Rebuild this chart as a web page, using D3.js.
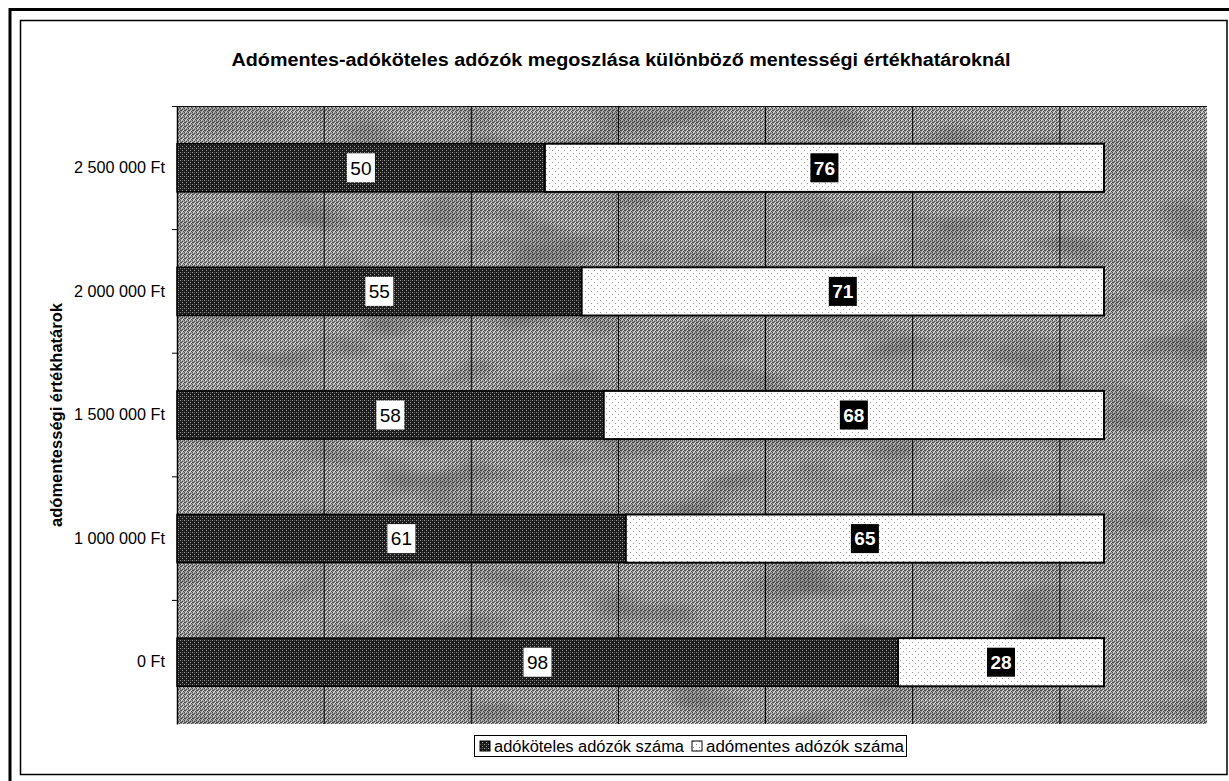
<!DOCTYPE html>
<html>
<head>
<meta charset="utf-8">
<script src="https://cdn.jsdelivr.net/npm/d3@7"></script>
<style>
  html, body { margin: 0; padding: 0; background: #fff; }
  svg { display: block; font-family: "Liberation Sans", Arial, sans-serif; }
</style>
</head>
<body>
<svg id="chart" width="1229" height="781"></svg>
<script>
const categories = ["2 500 000 Ft", "2 000 000 Ft", "1 500 000 Ft", "1 000 000 Ft", "0 Ft"];
const taxableCounts = [50, 55, 58, 61, 98];   // adóköteles adózók száma
const exemptCounts  = [76, 71, 68, 65, 28];   // adómentes adózók száma
const seriesNames = ["adóköteles adózók száma", "adómentes adózók száma"];
const xTicks = [0, 20, 40, 60, 80, 100, 120, 140];
const titleText = "Adómentes-adóköteles adózók megoszlása különböző mentességi értékhatároknál";
const yAxisTitle = "adómentességi értékhatárok";

const svg = d3.select("#chart");
const plot = { left: 177, top: 106, right: 1207, bottom: 724 };

// patterns
const defs = svg.append("defs");
const bg = defs.append("pattern").attr("id", "bgPat").attr("patternUnits", "userSpaceOnUse")
  .attr("width", 4).attr("height", 4);
bg.append("rect").attr("width", 4).attr("height", 4).attr("fill", "#a0a0a0");
[[0,0],[2,1],[1,2],[3,3],[0,2]].forEach(([x,y]) =>
  bg.append("rect").attr("x", x).attr("y", y).attr("width", 1).attr("height", 1).attr("fill", "#4a4a4a"));
[[1,0],[3,2],[2,3]].forEach(([x,y]) =>
  bg.append("rect").attr("x", x).attr("y", y).attr("width", 1).attr("height", 1).attr("fill", "#e4e4e4"));

const dk = defs.append("pattern").attr("id", "darkPat").attr("patternUnits", "userSpaceOnUse")
  .attr("width", 4).attr("height", 4);
dk.append("rect").attr("width", 4).attr("height", 4).attr("fill", "#1c1c1c");
[[0,0],[2,2]].forEach(([x,y]) =>
  dk.append("rect").attr("x", x).attr("y", y).attr("width", 1).attr("height", 1).attr("fill", "#9a9a9a"));
[[2,0]].forEach(([x,y]) =>
  dk.append("rect").attr("x", x).attr("y", y).attr("width", 1).attr("height", 1).attr("fill", "#555"));

const lt = defs.append("pattern").attr("id", "lightPat").attr("patternUnits", "userSpaceOnUse")
  .attr("width", 6).attr("height", 6);
lt.append("rect").attr("width", 6).attr("height", 6).attr("fill", "#ffffff");
[[0,0],[3,3]].forEach(([x,y]) =>
  lt.append("rect").attr("x", x).attr("y", y).attr("width", 1).attr("height", 1).attr("fill", "#999"));

// mottling filter for background
const f = defs.append("filter").attr("id", "mottle").attr("x", 0).attr("y", 0).attr("width", 1).attr("height", 1);
f.append("feTurbulence").attr("type", "fractalNoise").attr("baseFrequency", "0.012 0.03").attr("numOctaves", 2).attr("seed", 7).attr("result", "n");
f.append("feColorMatrix").attr("in", "n").attr("type", "matrix")
  .attr("values", "0 0 0 0 0  0 0 0 0 0  0 0 0 0 0  0 0 0 1.6 -0.75").attr("result", "m");
f.append("feComposite").attr("in", "m").attr("in2", "SourceGraphic").attr("operator", "in");

// frames
svg.append("rect").attr("x", 10).attr("y", 9.5).attr("width", 1240).attr("height", 800)
  .attr("fill", "none").attr("stroke", "#000").attr("stroke-width", 3);
svg.append("rect").attr("x", 20.5).attr("y", 20.5).attr("width", 1206.5).attr("height", 754)
  .attr("fill", "none").attr("stroke", "#000").attr("stroke-width", 1.5);

// scales
const x = d3.scaleLinear().domain([0, 140]).range([plot.left, plot.right]);
const y = d3.scaleBand().domain(categories).range([plot.top, plot.bottom])
  .paddingInner(0.61).paddingOuter(0.305);

// plot background
svg.append("rect").attr("x", plot.left).attr("y", plot.top)
  .attr("width", plot.right - plot.left).attr("height", plot.bottom - plot.top)
  .attr("fill", "url(#bgPat)");
svg.append("rect").attr("x", plot.left).attr("y", plot.top)
  .attr("width", plot.right - plot.left).attr("height", plot.bottom - plot.top)
  .attr("fill", "#000").attr("opacity", 0.35).attr("filter", "url(#mottle)");

// gridlines
svg.append("g").selectAll("line").data(xTicks.slice(1, -1)).join("line")
  .attr("x1", d => x(d)).attr("x2", d => x(d))
  .attr("y1", plot.top).attr("y2", plot.bottom)
  .attr("stroke", "#000").attr("stroke-width", 1);
svg.append("line").attr("x1", plot.left - 5).attr("x2", plot.right).attr("y1", plot.top + 0.5).attr("y2", plot.top + 0.5)
  .attr("stroke", "#111").attr("stroke-width", 1);

// y axis
const yAxis = d3.axisLeft(y).tickSize(0).tickPadding(12);
const gy = svg.append("g").attr("transform", `translate(${plot.left},0)`).call(yAxis);
gy.select(".domain").attr("stroke", "#000").attr("stroke-width", 1.5);
gy.selectAll("text").attr("font-size", 16.2).attr("fill", "#000")
  .attr("font-family", "'Liberation Sans', Arial, sans-serif");
const boundaries = categories.slice(1).map(c => y(c) - y.step() * y.paddingInner() / 2);
gy.selectAll(".sep").data(boundaries).join("line").attr("class", "sep")
  .attr("x1", -5).attr("x2", 0).attr("y1", d => d).attr("y2", d => d)
  .attr("stroke", "#000").attr("stroke-width", 1);

// bars
const rows = categories.map((c, i) => ({ c, a: taxableCounts[i], b: exemptCounts[i] }));
const g = svg.append("g");
g.selectAll(".barA").data(rows).join("rect").attr("class", "barA")
  .attr("x", x(0)).attr("y", d => y(d.c))
  .attr("width", d => x(d.a) - x(0)).attr("height", y.bandwidth())
  .attr("fill", "url(#darkPat)").attr("stroke", "#000").attr("stroke-width", 1.5);
g.selectAll(".barB").data(rows).join("rect").attr("class", "barB")
  .attr("x", d => x(d.a)).attr("y", d => y(d.c))
  .attr("width", d => x(d.a + d.b) - x(d.a)).attr("height", y.bandwidth())
  .attr("fill", "url(#lightPat)").attr("stroke", "#000").attr("stroke-width", 2);

// data labels
const labelBoxW = 28, labelBoxH = 29;
rows.forEach(d => {
  const cy = y(d.c) + y.bandwidth() / 2;
  const cxA = (x(0) + x(d.a)) / 2;
  g.append("rect").attr("x", cxA - labelBoxW / 2).attr("y", cy - labelBoxH / 2)
    .attr("width", labelBoxW).attr("height", labelBoxH).attr("fill", "#fff");
  g.append("text").attr("x", cxA).attr("y", cy).attr("dy", "0.36em")
    .attr("text-anchor", "middle").attr("font-size", 19).attr("fill", "#000").text(d.a);
  const cxB = (x(d.a) + x(d.a + d.b)) / 2;
  g.append("rect").attr("x", cxB - labelBoxW / 2).attr("y", cy - labelBoxH / 2)
    .attr("width", labelBoxW).attr("height", labelBoxH).attr("fill", "#000");
  g.append("text").attr("x", cxB).attr("y", cy).attr("dy", "0.36em")
    .attr("text-anchor", "middle").attr("font-size", 19).attr("font-weight", "bold")
    .attr("fill", "#fff").text(d.b);
});

// title
svg.append("text").attr("x", 621).attr("y", 66).attr("text-anchor", "middle")
  .attr("font-size", 18).attr("font-weight", "bold").attr("fill", "#000")
  .attr("textLength", 779).attr("lengthAdjust", "spacingAndGlyphs").text(titleText);

// y axis title
svg.append("text").attr("transform", `translate(62,${(plot.top + plot.bottom) / 2}) rotate(-90)`)
  .attr("text-anchor", "middle").attr("font-size", 16.5).attr("font-weight", "bold")
  .attr("fill", "#000").attr("textLength", 224).attr("lengthAdjust", "spacingAndGlyphs").text(yAxisTitle);

// legend
const lg = svg.append("g");
lg.append("rect").attr("x", 474.5).attr("y", 735.5).attr("width", 432).attr("height", 21)
  .attr("fill", "#fff").attr("stroke", "#000").attr("stroke-width", 1);
const legendItems = [
  { name: seriesNames[0], fill: "url(#darkPat)", x: 480, len: 190 },
  { name: seriesNames[1], fill: "url(#lightPat)", x: 692, len: 198 }
];
legendItems.forEach(it => {
  lg.append("rect").attr("x", it.x).attr("y", 741).attr("width", 10).attr("height", 10)
    .attr("fill", it.fill).attr("stroke", "#000").attr("stroke-width", 1);
  lg.append("text").attr("x", it.x + 14).attr("y", 746).attr("dy", "0.36em")
    .attr("font-size", 16).attr("fill", "#000")
    .attr("textLength", it.len).attr("lengthAdjust", "spacingAndGlyphs").text(it.name);
});
</script>
</body>
</html>
